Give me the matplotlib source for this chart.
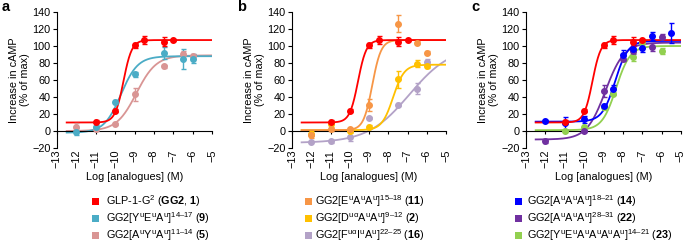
import numpy as np
import matplotlib
matplotlib.use('Agg')
import matplotlib.pyplot as plt
from matplotlib.patches import Rectangle

plt.rcParams['font.family'] = ['Liberation Sans', 'DejaVu Sans']
plt.rcParams['mathtext.fontset'] = 'custom'
plt.rcParams['mathtext.rm'] = 'Liberation Sans'
plt.rcParams['mathtext.bf'] = 'Liberation Sans:bold'
plt.rcParams['mathtext.it'] = 'Liberation Sans:italic'
plt.rcParams['font.size'] = 7.8

# ---- data ----
# GG2 (1), shown in all three panels
gg2_x = [-11, -10, -9, -8.5, -7.5, -7]
gg2_y = [11, 24, 101, 107, 105, 107]
gg2_e = [2, 2, 3, 5, 5, 1]
gg2_fit = [10, 107, -9.57, 2.0]  # bottom, top, logEC50, hill

# panel a
p9_x = [-12, -11, -10, -9, -7.5, -6.5, -6]
p9_y = [-1, 5, 34, 67, 92, 85, 85]
p9_e = [4, 2, 2, 3, 7, 12, 5]
p9_fit = [-2, 88, -9.7, 1.0]

p5_x = [-12, -11, -10, -9, -7.5, -6.5, -6]
p5_y = [5, 2, 8, 43, 76, 91, 88]
p5_e = [4, 2, 1, 8, 2, 3, 3]
p5_fit = [0, 89, -8.9, 0.85]

# panel b
p11_x = [-12, -11, -10, -9, -7.5, -6.5, -6]
p11_y = [-5, 2, 2, 31, 126, 104, 92]
p11_e = [3, 2, 2, 7, 10, 2, 2]
p11_fit = [1, 107, -8.83, 1.9]

p2_x = [-12, -11, -10, -9, -7.5, -6.5, -6]
p2_y = [-3, 8, 0, 5, 61, 79, 76]
p2_e = [3, 3, 2, 2, 10, 4, 2]
p2_fit = [1, 78, -7.75, 1.5]

p16_x = [-12, -11, -10, -9, -7.5, -6.5, -6]
p16_y = [-12.5, -12, -6.6, 15, 31, 50, 81]
p16_e = [1, 2, 5, 1, 2, 6, 4]
p16_fit = [-14, 100, -6.9, 0.4]

# panel c
p14_x = [-12, -11, -10, -9, -8.5, -8, -7.5, -7, -6.5, -5.5]
p14_y = [12, 9, 14, 30, 49, 89, 97, 98, 112, 115]
p14_e = [1, 8, 4, 2, 5, 6, 4, 5, 5, 12]
p14_fit = [11, 106, -8.4, 1.3]

p22_x = [-12, -10, -9, -8, -7.5, -6.5, -6]
p22_y = [-12, 0, 47, 85, 94, 99, 111]
p22_e = [2, 1, 7, 3, 3, 5, 3]
p22_fit = [-10, 104, -8.9, 0.9]

p23_x = [-11, -10, -9, -8.5, -7.5, -7, -6]
p23_y = [0, 5, 28, 44, 87, 104, 94]
p23_e = [1, 1, 3, 2, 5, 2, 4]
p23_fit = [1, 100, -8.35, 1.2]

c_red = '#ff0000'
c_cyan = '#4bacc6'
c_pink = '#d99594'
c_orange = '#f79646'
c_yellow = '#ffc000'
c_lav = '#b3a2c7'
c_blue = '#0000ff'
c_purple = '#7030a0'
c_green = '#92d050'

panel_a = [(p5_x, p5_y, p5_e, p5_fit, c_pink),
           (p9_x, p9_y, p9_e, p9_fit, c_cyan),
           (gg2_x, gg2_y, gg2_e, gg2_fit, c_red)]
panel_b = [(p16_x, p16_y, p16_e, p16_fit, c_lav),
           (p2_x, p2_y, p2_e, p2_fit, c_yellow),
           (p11_x, p11_y, p11_e, p11_fit, c_orange),
           (gg2_x, gg2_y, gg2_e, gg2_fit, c_red)]
panel_c = [(p23_x, p23_y, p23_e, p23_fit, c_green),
           (p22_x, p22_y, p22_e, p22_fit, c_purple),
           (p14_x, p14_y, p14_e, p14_fit, c_blue),
           (gg2_x, gg2_y, gg2_e, gg2_fit, c_red)]

legend_a = [(c_red, r'GLP-1-G$^{\rm 2}$ ($\mathbf{GG2}$, $\mathbf{1}$)'),
            (c_cyan, r'GG2[Y$^{\rm u}$E$^{\rm u}$A$^{\rm u}$]$^{\rm 14–17}$ ($\mathbf{9}$)'),
            (c_pink, r'GG2[A$^{\rm u}$Y$^{\rm u}$A$^{\rm u}$]$^{\rm 11–14}$ ($\mathbf{5}$)')]
legend_b = [(c_orange, r'GG2[E$^{\rm u}$A$^{\rm u}$A$^{\rm u}$]$^{\rm 15–18}$ ($\mathbf{11}$)'),
            (c_yellow, r'GG2[D$^{\rm u\alpha}$A$^{\rm u}$A$^{\rm u}$]$^{\rm 9–12}$ ($\mathbf{2}$)'),
            (c_lav, r'GG2[F$^{\rm u\alpha}$I$^{\rm u}$A$^{\rm u}$]$^{\rm 22–25}$ ($\mathbf{16}$)')]
legend_c = [(c_blue, r'GG2[A$^{\rm u}$A$^{\rm u}$A$^{\rm u}$]$^{\rm 18–21}$ ($\mathbf{14}$)'),
            (c_purple, r'GG2[A$^{\rm u}$A$^{\rm u}$A$^{\rm u}$]$^{\rm 28–31}$ ($\mathbf{22}$)'),
            (c_green, r'GG2[Y$^{\rm u}$E$^{\rm u}$A$^{\rm u}$A$^{\rm u}$A$^{\rm u}$A$^{\rm u}$]$^{\rm 14–21}$ ($\mathbf{23}$)')]


def four_pl(x, bottom, top, ec50, hill):
    return bottom + (top - bottom) / (1 + 10 ** (hill * (ec50 - x)))


W, H = 685, 244
fig = plt.figure(figsize=(W / 100, H / 100), dpi=100)

panels = [('a', 57, 212, panel_a, legend_a, 92, 106),
          ('b', 292, 446, panel_b, legend_b, 305, 315),
          ('c', 526, 681, panel_c, legend_c, 515, 527)]

xs = np.linspace(-12.5, -5, 300)
for letter, left, right, series, legend, sq_x, txt_x in panels:
    ax = fig.add_axes([left / W, 1 - 148 / H, (right - left) / W, 136 / H])
    for x, y, e, fit, col in series:
        ax.plot(xs, four_pl(xs, *fit), color=col, lw=1.3, zorder=2)
        ax.errorbar(x, y, yerr=e, fmt='o', color=col, ms=4, elinewidth=1,
                    capsize=1.8, capthick=1, zorder=3)
    ax.set_xlim(-13, -5)
    ax.set_ylim(-20, 140)
    ax.set_xticks(np.arange(-13, -4, 1))
    ax.set_yticks(np.arange(-20, 141, 20))
    # Prism-style: x axis line sits at y = 0, labels stay at the bottom
    ax.spines['bottom'].set_position(('data', 0))
    ax.tick_params(axis='x', labelrotation=90, length=2.5, width=0.8, pad=11)
    ax.tick_params(axis='y', length=3, width=0.8, pad=1.5)
    for s in ['top', 'right']:
        ax.spines[s].set_visible(False)
    for s in ['left', 'bottom']:
        ax.spines[s].set_linewidth(0.8)
    ax.set_ylabel('Increase in cAMP\n(% of max)', labelpad=2, linespacing=1.05)
    fig.text((left + right) / 2 / W, 1 - 177 / H, 'Log [analogues] (M)',
             ha='center', va='center')
    fig.text((left - 55) / W, 1 - 7 / H, letter, fontweight='bold',
             fontsize=10.5, ha='left', va='center')
    for i, (col, lab) in enumerate(legend):
        yy = 201 + i * 17
        fig.add_artist(Rectangle((sq_x / W, 1 - (yy + 3.5) / H), 7 / W, 7 / H,
                                 transform=fig.transFigure, color=col,
                                 lw=0))
        fig.text(txt_x / W, 1 - yy / H, lab, ha='left', va='center')

fig.savefig('out.png', dpi=100)
